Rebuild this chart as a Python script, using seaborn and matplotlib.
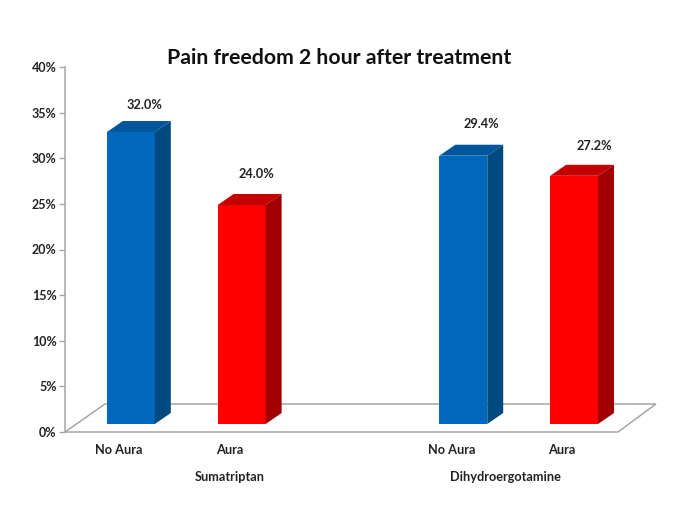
import matplotlib
matplotlib.use('Agg')
import matplotlib.pyplot as plt
from matplotlib.patches import Polygon, Rectangle
from matplotlib.transforms import ScaledTranslation
import pandas as pd
import seaborn as sns

# data
positions = ['S No Aura', 'S Aura', 'gap', 'D No Aura', 'D Aura']
tick_labels = ['No Aura', 'Aura', '', 'No Aura', 'Aura']
kinds = ['No Aura', 'Aura', None, 'No Aura', 'Aura']
values = [32.0, 24.0, None, 29.4, 27.2]
value_labels = ['32.0%', '24.0%', None, '29.4%', '27.2%']
groups = ['Sumatriptan', 'Dihydroergotamine']
yticks = [0, 5, 10, 15, 20, 25, 30, 35, 40]

front = {'No Aura': '#0068BC', 'Aura': '#FF0000'}
top = {'No Aura': '#00569C', 'Aura': '#C40000'}
side = {'No Aura': '#004A80', 'Aura': '#A00000'}

sns.set_theme(style='white')
plt.rcParams['font.family'] = ['Lato', 'DejaVu Sans']

W, H = 685, 513
fig = plt.figure(figsize=(W / 100, H / 100), dpi=100)
ax = fig.add_axes([65 / W, 1 - 432 / H, (618 - 65) / W, (432 - 67) / H])

df = pd.DataFrame({'pos': positions, 'kind': kinds, 'value': values})
sns.barplot(data=df, x='pos', y='value', hue='kind', order=positions, hue_order=['No Aura', 'Aura'],
            palette=front, saturation=1, dodge=False, width=48 / 111, legend=False, linewidth=0,
            zorder=3, ax=ax)

ax.set_xlim(-66 / 111, 4 + 44 / 111)
ax.set_ylim(0, 40)

# pixel sizes turned into data units
px = 1 / 111
py = 1 / 9.125
lift = 8 * py
dx, dy = 16 * px, 11 * py

# floor of the 3d box
grey = '#A6A6A6'
floor_x = [-66 * px, -26 * px, 4 + 82 * px, 4 + 44 * px]
floor_y = [0, 28 * py, 28 * py, 0]
ax.add_patch(Polygon(list(zip(floor_x, floor_y)), closed=True, fill=False, edgecolor=grey,
                     linewidth=1.1, clip_on=False, zorder=1))

# move the bars up off the floor and add the top and side faces
bars = [p for p in ax.patches if isinstance(p, Rectangle) and p.get_height() > 0]
bars = sorted(bars, key=lambda p: p.get_x())
drawn = [k for k in kinds if k]
shown = [t for t in value_labels if t]
label_dx = [14, 15, 18, 20]
label_dy = [16, 20, 21, 19]
for bar, kind, text, ldx, ldy in zip(bars, drawn, shown, label_dx, label_dy):
    x0 = bar.get_x()
    x1 = x0 + bar.get_width()
    y1 = lift + bar.get_height()
    bar.set_y(lift)
    ax.add_patch(Polygon([(x0, y1), (x0 + dx, y1 + dy), (x1 + dx, y1 + dy), (x1, y1)],
                         facecolor=top[kind], edgecolor='none', zorder=3))
    ax.add_patch(Polygon([(x1, lift), (x1 + dx, lift + dy), (x1 + dx, y1 + dy), (x1, y1)],
                         facecolor=side[kind], edgecolor='none', zorder=3))
    ax.annotate(text, ((x0 + x1) / 2, y1 + dy), xytext=(ldx * 0.72, ldy * 0.72), textcoords='offset points',
                ha='center', va='center', fontsize=9.2, fontweight='bold', color='#222222')

ax.set_xticks(range(len(positions)))
ax.set_xticklabels(tick_labels, fontsize=9.2, fontweight='bold', color='#222222')
ax.set_yticks(yticks)
ax.set_yticklabels([f'{v}%' for v in yticks], fontsize=9, fontweight='bold', color='#222222')
ax.tick_params(axis='x', length=0, pad=9)
ax.tick_params(axis='y', length=4, width=1, color=grey, pad=2, left=True)
ax.set_xlabel('')
ax.set_ylabel('')

# the x labels sit a little left of their bars in the original
shift = ScaledTranslation(-12 / 100, 0, fig.dpi_scale_trans)
for label in ax.get_xticklabels():
    label.set_transform(label.get_transform() + shift)

for s in ['top', 'right', 'bottom']:
    ax.spines[s].set_visible(False)
ax.spines['left'].set_color(grey)
ax.spines['left'].set_linewidth(1.1)

# group names under each pair
ax.text(99 * px, -45 * py, groups[0], ha='center', va='center', fontsize=9.2, fontweight='bold', color='#222222')
ax.text(375 * px, -45 * py, groups[1], ha='center', va='center', fontsize=9.2, fontweight='bold', color='#222222')

fig.text(339.5 / W, 1 - 58 / H, 'Pain freedom 2 hour after treatment', ha='center', va='center',
         fontsize=15.3, fontweight='bold', color='#111111')

fig.savefig('out.png', dpi=100)
